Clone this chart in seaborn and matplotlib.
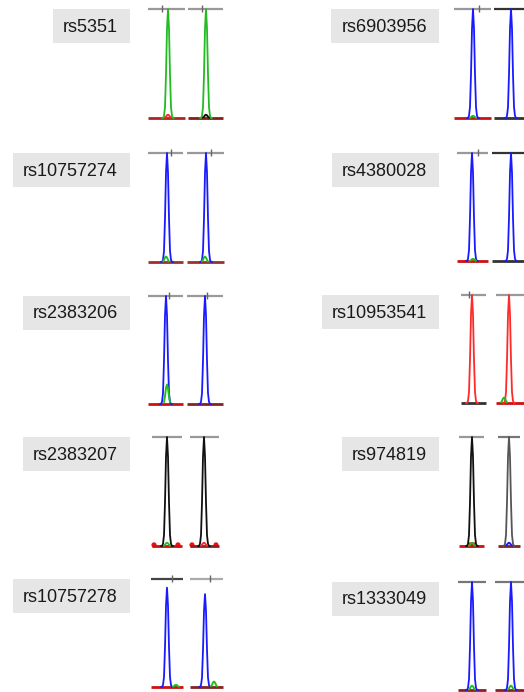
import numpy as np
import matplotlib
matplotlib.use("Agg")
import matplotlib.pyplot as plt
from matplotlib.patches import Rectangle
from matplotlib.transforms import IdentityTransform
import seaborn as sns

# === Data ===
snps = ["rs5351", "rs10757274", "rs2383206", "rs2383207", "rs10757278",
        "rs6903956", "rs4380028", "rs10953541", "rs974819", "rs1333049"]
peak_colors = [("#22bb22", "#22bb22"), ("#1a1aff", "#1a1aff"), ("#1a1aff", "#1a1aff"),
               ("#111111", "#111111"), ("#1a1aff", "#1a1aff"),
               ("#1a1aff", "#1a1aff"), ("#1a1aff", "#1a1aff"), ("#ff2a2a", "#ff2a2a"),
               ("#111111", "#555555"), ("#1a1aff", "#1a1aff")]
# peak position (scan units) and relative height for the two samples
peak_x = [(22, 60), (21, 60), (20, 59), (21, 58), (21, 59),
          (21, 59), (20, 59), (20, 57), (20, 57), (20, 59)]
peak_h = [(1.0, 1.0), (1.0, 1.0), (1.0, 1.0), (1.0, 1.0), (0.92, 0.86),
          (1.0, 1.0), (1.0, 1.0), (1.0, 1.0), (1.0, 1.0), (1.0, 1.0)]
# shape of a single peak, sampled every scan unit
peak_offsets = [-6, -5, -4, -3, -2, -1, 0, 1, 2, 3, 4, 5, 6]
peak_profile = [0.0, 0.0, 0.02, 0.1, 0.4, 0.82, 1.0, 0.82, 0.4, 0.1, 0.02, 0.0, 0.0]
# scan window of each sample
spans = [((2, 39), (42, 77)), ((2, 37), (41, 78)), ((2, 37), (41, 77)),
         ((6, 36), (44, 73)), ((5, 37), (44, 77)),
         ((2, 39), (42, 83)), ((5, 36), (40, 83)), ((9, 34), (44, 83)),
         ((7, 32), (46, 68)), ((6, 34), (43, 83))]
tick_x = [(16, 56), (25, 65), (23, 61), (None, None), (26, 64),
          (27, None), (26, None), (17, None), (None, None), (None, None)]
top_colors = [("#999999", "#999999"), ("#999999", "#999999"), ("#999999", "#999999"),
              ("#999999", "#999999"), ("#444444", "#aaaaaa"),
              ("#999999", "#333333"), ("#999999", "#333333"), ("#999999", "#999999"),
              ("#999999", "#777777"), ("#777777", "#777777")]
base_colors = [("#b22222", "#8b1a1a"), ("#a0302a", "#a0302a"), ("#cc1111", "#8b2020"),
               ("#cc1111", "#8b2020"), ("#cc1111", "#8b2020"),
               ("#cc1111", "#333333"), ("#cc1111", "#333333"), ("#333333", "#cc1111"),
               ("#cc1111", "#8b2020"), ("#8b2020", "#8b2020")]
# small secondary peaks: (snp, sample, x, height, colour)
minor_peaks = [(0, 0, 22, 0.03, "#ff2a2a"), (0, 1, 60, 0.03, "#111111"),
               (1, 0, 20, 0.05, "#22bb22"), (1, 1, 59, 0.05, "#22bb22"),
               (2, 0, 21, 0.18, "#22bb22"),
               (3, 0, 21, 0.03, "#22bb22"), (3, 1, 58, 0.03, "#ff2a2a"),
               (4, 0, 30, 0.02, "#22bb22"), (4, 1, 68, 0.05, "#22bb22"),
               (5, 0, 21, 0.02, "#22bb22"), (6, 0, 21, 0.02, "#22bb22"),
               (7, 1, 52, 0.05, "#22bb22"),
               (8, 0, 20, 0.03, "#22bb22"), (8, 1, 57, 0.03, "#1a1aff"),
               (9, 0, 20, 0.04, "#22bb22"), (9, 1, 59, 0.04, "#22bb22")]
# red blobs on the baseline: (snp, x)
base_dots = [(3, 8), (3, 32), (3, 46), (3, 70), (8, 18), (8, 22)]

# === Layout (pixels) ===
W, H = 524, 692
row_top = [9, 153, 296, 437, 579, 9, 153, 295, 437, 582]
row_base = [118, 262, 404, 546, 687, 118, 261, 403, 546, 690]
axes_left = [146] * 5 + [452] * 5
box_right = [130] * 5 + [439] * 5

sns.set_style("white")
plt.rcParams["font.family"] = ["Liberation Sans", "DejaVu Sans"]

fig = plt.figure(figsize=(W / 100, H / 100), dpi=100)
fig.patch.set_facecolor("white")

labels = []
for i, name in enumerate(snps):
    top, base = row_top[i], row_base[i]
    pad = 4
    ax = fig.add_axes([axes_left[i] / W, (H - base - pad) / H,
                       84 / W, (base - top + 2 * pad) / H])
    frac = pad / (base - top)
    ax.set_xlim(0, 84)
    ax.set_ylim(-frac, 1 + frac)
    ax.axis("off")

    for s in range(2):
        x0, x1 = spans[i][s]
        ax.hlines(1.0, x0, x1, color=top_colors[i][s], lw=1.6)
        ax.hlines(0.0, x0, x1, color=base_colors[i][s], lw=2.0)
        if tick_x[i][s] is not None:
            ax.vlines(tick_x[i][s], 0.97, 1.04, color="#666666", lw=1.0)
        px = [peak_x[i][s] + o for o in peak_offsets]
        py = [peak_h[i][s] * v for v in peak_profile]
        sns.lineplot(x=px, y=py, color=peak_colors[i][s], lw=1.3, sort=False,
                     ax=ax, legend=False)

    for (k, s, mx, mh, mc) in minor_peaks:
        if k != i:
            continue
        px = [mx + o for o in peak_offsets[3:10]]
        py = [mh * v for v in peak_profile[3:10]]
        sns.lineplot(x=px, y=py, color=mc, lw=1.4, sort=False, ax=ax, legend=False)

    dots = [dx for (k, dx) in base_dots if k == i]
    if dots:
        sns.scatterplot(x=dots, y=[0.01] * len(dots), color="#ee1111", s=14,
                        edgecolor="none", ax=ax, legend=False)

    t = fig.text((box_right[i] - 12) / W, 1 - (top + 18) / H, name,
                 ha="right", va="center", fontsize=13, color="#1a1a1a", zorder=5)
    labels.append(t)

# grey label boxes sized from the rendered text
fig.canvas.draw()
renderer = fig.canvas.get_renderer()
for i, t in enumerate(labels):
    bb = t.get_window_extent(renderer)
    top = row_top[i]
    fig.patches.append(Rectangle((bb.x0 - 10, H - top - 34), box_right[i] - bb.x0 + 10, 34,
                                 transform=IdentityTransform(), facecolor="#e6e6e6",
                                 edgecolor="none", zorder=1))

fig.savefig("out.png", dpi=100, facecolor="white")
